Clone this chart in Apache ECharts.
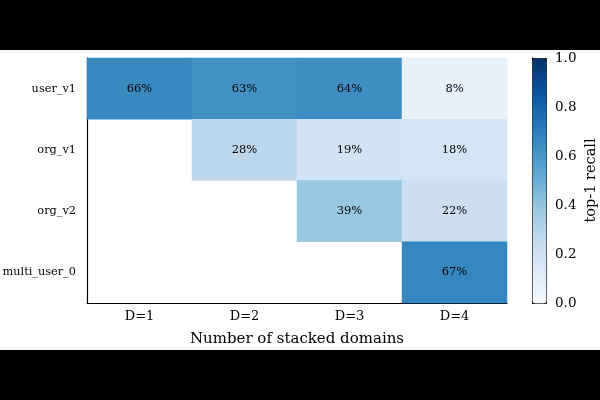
<!DOCTYPE html>
<html>
<head>
<meta charset="utf-8">
<script src="https://cdn.jsdelivr.net/npm/echarts@6/dist/echarts.min.js"></script>
<style>
html, body { margin:0; padding:0; background:#000; }
#chart { position:absolute; left:0; top:50px; width:600px; height:300px; background:#fff; }
</style>
</head>
<body>
<div id="chart"></div>
<script>
var domains = ['D=1', 'D=2', 'D=3', 'D=4'];
var sources = ['user_v1', 'org_v1', 'org_v2', 'multi_user_0'];
// recall per source row, per stacked-domain column (null = not present)
var recall = [
	[0.66, 0.63, 0.64, 0.08],
	[null, 0.28, 0.19, 0.18],
	[null, null, 0.39, 0.22],
	[null, null, null, 0.67]
];
var cbTicks = [0, 0.2, 0.4, 0.6, 0.8, 1.0];
var blues = ['#f7fbff','#deebf7','#c6dbef','#9ecae1','#6baed6','#4292c6','#2171b5','#08519c','#08306b'];

var font = 'DejaVu Serif';
var cells = [];
for (var r = 0; r < recall.length; r++) {
	for (var c = 0; c < recall[r].length; c++) {
		if (recall[r][c] != null) cells.push([c, r, recall[r][c]]);
	}
}

var myChart = echarts.init(document.getElementById('chart'));
myChart.setOption({
	animation: false,
	textStyle: { fontFamily: font },
	grid: [
		{ left: 87, top: 8, width: 420, height: 245, outerBoundsMode: 'none', containLabel: false },
		{ left: 532, top: 8, width: 14, height: 245, outerBoundsMode: 'none', containLabel: false }
	],
	xAxis: [{
		type: 'category',
		data: domains,
		gridIndex: 0,
		name: 'Number of stacked domains',
		nameLocation: 'middle',
		nameGap: 29,
		nameTextStyle: { color: '#000', fontSize: 15, fontFamily: font },
		axisLine: { lineStyle: { color: '#000', width: 1.2 } },
		axisTick: { alignWithLabel: true, length: 4, lineStyle: { color: '#000' } },
		axisLabel: { color: '#000', fontSize: 13, fontFamily: font, margin: 7 },
		splitLine: { show: false }
	}, {
		type: 'value', gridIndex: 1, show: false, min: 0, max: 1
	}],
	yAxis: [{
		type: 'category',
		data: sources,
		gridIndex: 0,
		inverse: true,
		axisLine: { lineStyle: { color: '#000', width: 1.2 } },
		axisTick: { alignWithLabel: true, length: 4, lineStyle: { color: '#000' } },
		axisLabel: { color: '#000', fontSize: 11.3, fontFamily: font, margin: 11 },
		splitLine: { show: false }
	}, {
		type: 'value',
		gridIndex: 1,
		position: 'right',
		min: 0,
		max: 1,
		interval: 0.2,
		name: 'top-1 recall',
		nameLocation: 'middle',
		nameRotate: 90,
		nameGap: 38,
		nameTextStyle: { color: '#000', fontSize: 14.5, fontFamily: font },
		axisLine: { show: true, lineStyle: { color: '#000', width: 1 } },
		axisTick: { show: true, length: 4, lineStyle: { color: '#000' } },
		axisLabel: { color: '#000', fontSize: 13.5, fontFamily: font, margin: 9,
			formatter: function(v){ return v.toFixed(1); } },
		splitLine: { show: false }
	}],
	visualMap: {
		type: 'continuous',
		seriesIndex: 0,
		min: cbTicks[0],
		max: cbTicks[cbTicks.length - 1],
		calculable: false,
		orient: 'vertical',
		left: 532,
		top: 8,
		itemWidth: 14,
		itemHeight: 245,
		padding: 0,
		borderColor: '#000',
		borderWidth: 1,
		inRange: { color: blues }
	},
	series: [{
		type: 'heatmap',
		xAxisIndex: 0,
		yAxisIndex: 0,
		data: cells,
		label: {
			show: true,
			color: '#000',
			fontSize: 11.5,
			fontFamily: font,
			formatter: function(p){ return Math.round(p.value[2] * 100) + '%'; }
		},
		emphasis: { disabled: true }
	}]
});
</script>
</body>
</html>
